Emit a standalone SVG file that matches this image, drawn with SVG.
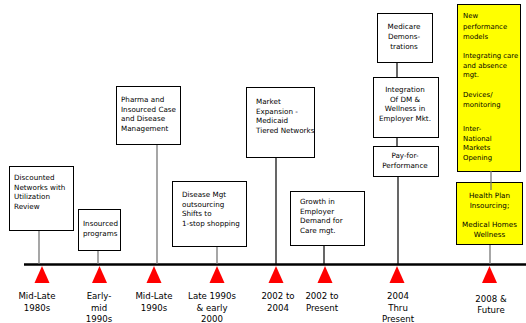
<svg xmlns="http://www.w3.org/2000/svg" width="526" height="323" viewBox="0 0 526 323">
<style>
.bx{fill:#fff;stroke:#000;stroke-width:1}
.yb{fill:#ffff00;stroke:#000;stroke-width:1}
.t{font-family:"DejaVu Sans",Verdana,sans-serif;font-size:7.2px;fill:#000}
.ty{font-size:6.9px}
.c{text-anchor:middle}
.lb{font-family:"DejaVu Sans",Verdana,sans-serif;font-size:8.6px;fill:#000;text-anchor:middle}
.cg{stroke:#777;stroke-width:1.3;fill:none}
.ck{stroke:#000;stroke-width:1.2;fill:none}
.tri{fill:#ff0000}
</style>
<rect width="526" height="323" fill="#fff"/>
<g id="timeline">
<line x1="24" y1="264.5" x2="526" y2="264.5" stroke="#000" stroke-width="2.6"/>
<polygon class="tri" points="42,266 34.5,283 49.5,283"/>
<polygon class="tri" points="99.5,266 92,283 107,283"/>
<polygon class="tri" points="154,266 146.5,283 161.5,283"/>
<polygon class="tri" points="217,266 209.5,283 224.5,283"/>
<polygon class="tri" points="276,266 268.5,283 283.5,283"/>
<polygon class="tri" points="325,266 317.5,283 332.5,283"/>
<polygon class="tri" points="397,266 389.5,283 404.5,283"/>
<polygon class="tri" points="489.5,266 482,283 497,283"/>
<text class="lb" x="37" y="299">Mid-Late</text>
<text class="lb" x="37" y="310.5">1980s</text>
<text class="lb" x="99" y="299">Early-</text>
<text class="lb" x="99" y="310.5">mid</text>
<text class="lb" x="99" y="322">1990s</text>
<text class="lb" x="154" y="299">Mid-Late</text>
<text class="lb" x="154" y="310.5">1990s</text>
<text class="lb" x="212" y="299">Late 1990s</text>
<text class="lb" x="212" y="310.5">&amp; early</text>
<text class="lb" x="212" y="322">2000</text>
<text class="lb" x="278" y="299">2002 to</text>
<text class="lb" x="278" y="310.5">2004</text>
<text class="lb" x="322" y="299">2002 to</text>
<text class="lb" x="322" y="310.5">Present</text>
<text class="lb" x="398" y="299">2004</text>
<text class="lb" x="398" y="310.5">Thru</text>
<text class="lb" x="398" y="322">Present</text>
<text class="lb" x="491" y="301.5">2008 &amp;</text>
<text class="lb" x="491" y="313">Future</text>
</g>
<g id="connectors">
<line class="cg" x1="39" y1="230" x2="39" y2="264"/>
<line class="cg" x1="98" y1="250" x2="98" y2="264"/>
<line class="cg" x1="157" y1="144" x2="157" y2="264"/>
<line class="cg" x1="217" y1="246" x2="217" y2="264"/>
<line class="ck" x1="276" y1="157" x2="276" y2="264"/>
<line class="ck" x1="324" y1="245" x2="324" y2="264"/>
<line class="ck" x1="397" y1="62" x2="397" y2="77"/>
<line class="ck" x1="397" y1="137" x2="397" y2="146"/>
<line class="ck" x1="398" y1="176" x2="398" y2="264"/>
<line class="cg" x1="490" y1="244" x2="490" y2="264"/>
</g>
<g id="n1">
<rect class="bx" x="9.5" y="166.5" width="64" height="64"/>
<text class="t" x="14" y="180">Discounted</text>
<text class="t" x="14" y="189.7">Networks with</text>
<text class="t" x="14" y="199.4">Utilization</text>
<text class="t" x="14" y="209.1">Review</text>
</g>
<g id="n2">
<rect class="bx" x="78.5" y="209.5" width="42" height="41"/>
<text class="t" x="83" y="226">Insourced</text>
<text class="t" x="83" y="236">programs</text>
</g>
<g id="n3">
<rect class="bx" x="116.5" y="86.5" width="64" height="58"/>
<text class="t" x="121" y="102">Pharma and</text>
<text class="t" x="121" y="111.5">Insourced Case</text>
<text class="t" x="121" y="121">and Disease</text>
<text class="t" x="121" y="130.5">Management</text>
</g>
<g id="n4">
<rect class="bx" x="172.5" y="181.5" width="74" height="65"/>
<text class="t" x="182" y="197">Disease Mgt</text>
<text class="t" x="182" y="206.7">outsourcing</text>
<text class="t" x="182" y="216.4">Shifts to</text>
<text class="t" x="182" y="226.1">1-stop shopping</text>
</g>
<g id="n5">
<rect class="bx" x="246.5" y="87.5" width="68" height="70"/>
<text class="t" x="256" y="104">Market</text>
<text class="t" x="256" y="113.5">Expansion -</text>
<text class="t" x="256" y="123">Medicaid</text>
<text class="t" x="256" y="132.5">Tiered Networks</text>
</g>
<g id="n6">
<rect class="bx" x="290.5" y="191.5" width="74" height="54"/>
<text class="t" x="300" y="204">Growth in</text>
<text class="t" x="300" y="213.7">Employer</text>
<text class="t" x="300" y="223.4">Demand for</text>
<text class="t" x="300" y="233.1">Care mgt.</text>
</g>
<g id="n7">
<rect class="bx" x="377.5" y="13.5" width="55" height="49"/>
<text class="t c" x="404" y="29">Medicare</text>
<text class="t c" x="404" y="39">Demons-</text>
<text class="t c" x="404" y="49">trations</text>
</g>
<g id="n8">
<rect class="bx" x="373.5" y="77.5" width="65" height="60"/>
<text class="t c" x="405" y="92">Integration</text>
<text class="t c" x="405" y="101.7">Of DM &amp;</text>
<text class="t c" x="405" y="111.4">Wellness in</text>
<text class="t c" x="405" y="121.1">Employer Mkt.</text>
</g>
<g id="n9">
<rect class="bx" x="373.5" y="146.5" width="65" height="30"/>
<text class="t c" x="405" y="157.5">Pay-for-</text>
<text class="t c" x="405" y="167.5">Performance</text>
</g>
<g id="n10">
<rect class="yb" x="457.5" y="4.5" width="63" height="167"/>
<text class="t ty" x="463" y="18">New</text>
<text class="t ty" x="463" y="28.5">performance</text>
<text class="t ty" x="463" y="39">models</text>
<text class="t ty" x="463" y="58">Integrating care</text>
<text class="t ty" x="463" y="67.7">and absence</text>
<text class="t ty" x="463" y="77.4">mgt.</text>
<text class="t ty" x="463" y="97">Devices/</text>
<text class="t ty" x="463" y="106.7">monitoring</text>
<text class="t ty" x="463" y="131">Inter-</text>
<text class="t ty" x="463" y="140.5">National</text>
<text class="t ty" x="463" y="150">Markets</text>
<text class="t ty" x="463" y="159.5">Opening</text>
</g>
<g id="n11">
<rect class="yb" x="456.5" y="182.5" width="66" height="62"/>
<text class="t c" x="489.5" y="198">Health Plan</text>
<text class="t c" x="489.5" y="208">Insourcing;</text>
<text class="t c" x="489.5" y="227">Medical Homes</text>
<text class="t c" x="489.5" y="237">Wellness</text>
</g>
<g id="connectors-top">
<line class="cg" x1="491" y1="171" x2="491" y2="190"/>
</g>
</svg>
